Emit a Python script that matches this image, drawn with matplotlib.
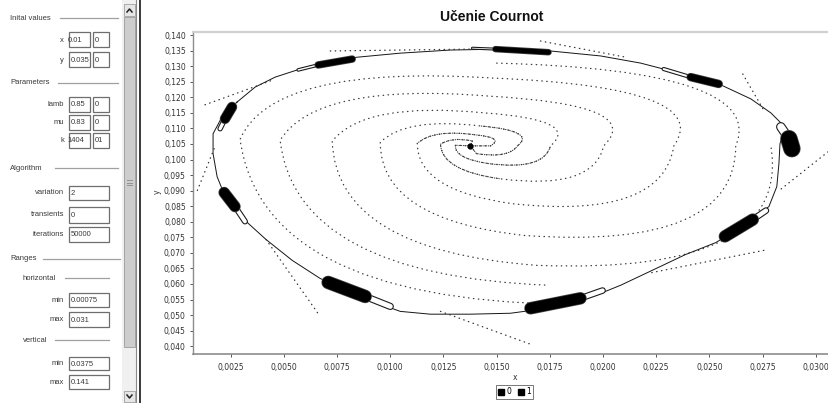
import matplotlib
matplotlib.use("Agg")
import matplotlib.pyplot as plt
from matplotlib.path import Path
from matplotlib.patches import PathPatch, Rectangle
from matplotlib.lines import Line2D
from matplotlib.ticker import MultipleLocator, FuncFormatter

# ---------------- data ----------------
title = "Učenie Cournot"
x_min, x_max = 0.00075, 0.031
y_min, y_max = 0.0375, 0.141
fixed_point = (0.01377, 0.1044)

# spiral arms (on-curve / quadratic-control points alternate after the 2nd point)
arm0_x = [0.01377, 0.01471, 0.01537, 0.01405, 0.01203, 0.01127, 0.01127, 0.01575,
          0.02281, 0.02333, 0.02530, 0.01480, 0.00445, 0.00294, 0.00398, 0.01800]
arm0_y = [0.1044, 0.1044, 0.1070, 0.1079, 0.1099, 0.1052, 0.0900, 0.0858,
          0.0807, 0.1044, 0.1233, 0.1262, 0.1307, 0.1065, 0.0554, 0.0535]
arm1_x = [0.01377, 0.01386, 0.01283, 0.01236, 0.01240, 0.01518, 0.01956, 0.02003,
          0.02205, 0.01462, 0.00652, 0.00482, 0.00558, 0.01744]
arm1_y = [0.1044, 0.1060, 0.1073, 0.1049, 0.0964, 0.0938, 0.0900, 0.1044,
          0.1176, 0.1204, 0.1249, 0.1062, 0.0628, 0.0596]
arm2_x = [0.01377, 0.01306, 0.01301, 0.01462, 0.01725, 0.01753, 0.01899, 0.01443,
          0.00878, 0.00727, 0.00746, 0.01688, 0.02888, 0.02789]
arm2_y = [0.1044, 0.1046, 0.1003, 0.0987, 0.0964, 0.1044, 0.1128, 0.1150,
          0.1188, 0.1059, 0.0708, 0.0660, 0.0628, 0.1044]
arm3_x = [0.01377, 0.01405, 0.01556, 0.01598, 0.01688, 0.01424, 0.01071, 0.00953,
          0.00953, 0.01631, 0.02624, 0.02624, 0.02775, 0.01499]
arm3_y = [0.1044, 0.1019, 0.1003, 0.1044, 0.1092, 0.1108, 0.1137, 0.1055,
          0.0807, 0.0756, 0.0708, 0.1044, 0.1288, 0.1310]

# closed invariant curve through the clusters
boundary_x = [0.00280, 0.00365, 0.00459, 0.00576, 0.00718, 0.00845, 0.01047, 0.01283,
              0.01518, 0.01753, 0.01989, 0.02177, 0.02318, 0.02554, 0.02695, 0.02789,
              0.02855, 0.02832, 0.02827, 0.02817, 0.02780, 0.02671, 0.02530, 0.02389,
              0.02210, 0.02083, 0.01989, 0.01848, 0.01706, 0.01565, 0.01377, 0.01188,
              0.01047, 0.00953, 0.00812, 0.00670, 0.00539, 0.00416, 0.00308, 0.00228,
              0.00186, 0.00167, 0.00167, 0.00209, 0.00280]
boundary_y = [0.1185, 0.1233, 0.1265, 0.1291, 0.1317, 0.1329, 0.1342, 0.1352,
              0.1355, 0.1349, 0.1333, 0.1310, 0.1285, 0.1240, 0.1195, 0.1150,
              0.1105, 0.1051, 0.0987, 0.0913, 0.0849, 0.0791, 0.0733, 0.0695,
              0.0637, 0.0596, 0.0570, 0.0541, 0.0519, 0.0506, 0.0503, 0.0503,
              0.0512, 0.0535, 0.0573, 0.0618, 0.0676, 0.0743, 0.0810, 0.0874,
              0.0945, 0.1019, 0.1083, 0.1137, 0.1185]

# straight dotted manifold pieces
seg_x = [[0.00129, 0.00294, 0.00449], [0.00172, 0.00091], [0.00416, 0.00670],
         [0.00718, 0.01377], [0.01706, 0.02107], [0.02657, 0.02752],
         [0.03058, 0.02822], [0.02756, 0.02210], [0.01236, 0.01673]]
seg_y = [[0.1176, 0.1217, 0.1256], [0.1035, 0.0897], [0.0743, 0.0496],
         [0.1349, 0.1355], [0.1381, 0.1329], [0.1275, 0.1163],
         [0.1025, 0.0897], [0.0708, 0.0634], [0.0512, 0.0403]]

# dense clusters: ring end (tail), core start, core end
cl_tx = [0.00567, 0.01386, 0.02285, 0.02836, 0.02766, 0.01998, 0.01000, 0.00317, 0.00200]
cl_ty = [0.1288, 0.1358, 0.1291, 0.1105, 0.0836, 0.0579, 0.0528, 0.0801, 0.1099]
cl_x0 = [0.00661, 0.01494, 0.02412, 0.02874, 0.02704, 0.01894, 0.00882, 0.00270, 0.00223]
cl_y0 = [0.1304, 0.1355, 0.1265, 0.1067, 0.0807, 0.0554, 0.0560, 0.0849, 0.1131]
cl_x1 = [0.00821, 0.01744, 0.02544, 0.02888, 0.02573, 0.01659, 0.00708, 0.00219, 0.00256]
cl_y1 = [0.1323, 0.1345, 0.1243, 0.1035, 0.0753, 0.0522, 0.0605, 0.0894, 0.1169]
cl_px = [6, 5, 7, 16, 11, 11, 12, 10, 9]   # thickness in pixels (style)

legend_labels = ["0", "1"]

# ---------------- figure ----------------
W, H, DPI = 829, 403, 100
fig = plt.figure(figsize=(W / DPI, H / DPI), dpi=DPI)
fig.patch.set_facecolor("white")
PX = 72.0 / DPI  # points per pixel

# ---- left control panel (UI mock-up) ----
pax = fig.add_axes([0, 0, 1, 1], zorder=-1)
pax.set_xlim(0, W)
pax.set_ylim(H, 0)
pax.axis("off")
pax.patch.set_alpha(0)
FS = 5.5
FAM = "Liberation Sans"
TC = "#3a3a3a"


def label(x, y, s, ha="right"):
    pax.text(x, y, s, ha=ha, va="center", fontsize=FS, color=TC, family=FAM)


def header(x, y, s, lx0, lx1):
    label(x, y, s, ha="left")
    pax.plot([lx0, lx1], [y, y], color="#a0a0a0", lw=0.9)


def box(x0, x1, y0, y1, s, shift=0):
    r = Rectangle((x0, y0), x1 - x0, y1 - y0, facecolor="white",
                  edgecolor="#6e6e6e", lw=0.9)
    pax.add_patch(r)
    t = pax.text(x0 + 2 + shift, (y0 + y1) / 2 + 0.5, s, ha="left", va="center",
                 fontsize=FS, color=TC, family=FAM)
    t.set_clip_path(r)


header(10, 18, "Inital values", 60, 118)
label(64, 40, "x"); box(69, 90, 32, 47, "0.01", shift=-3); box(93, 109, 32, 47, "0")
label(64, 60, "y"); box(69, 90, 52, 67, "0.035"); box(93, 109, 52, 67, "0")
header(10, 83, "Parameters", 58, 118)
label(64, 105, "lamb"); box(69, 90, 97, 112, "0.85"); box(93, 109, 97, 112, "0")
label(64, 123, "mu"); box(69, 90, 115, 130, "0.83"); box(93, 109, 115, 130, "0")
label(64, 141, "k"); box(69, 90, 133, 148, "1404", shift=-4); box(93, 109, 133, 148, "01")
header(10, 168, "Algorithm", 55, 118)
label(64, 193, "variation"); box(69, 109, 186, 200, "2")
label(64, 215, "transients"); box(69, 109, 207, 223, "0")
label(64, 234.5, "iterations"); box(69, 109, 227, 242, "50000")
header(10, 259, "Ranges", 43, 120)
header(23, 278, "horizontal", 65, 109)
label(64, 300, "min"); box(69, 109, 293, 307, "0.00075")
label(64, 319.5, "max"); box(69, 109, 312, 327, "0.031")
header(23, 340, "vertical", 55, 109)
label(64, 363.5, "min"); box(69, 109, 357, 370, "0.0375")
label(64, 382, "max"); box(69, 109, 375, 389, "0.141")

# scrollbar
pax.add_patch(Rectangle((122, 0), 14, H, facecolor="#f0f0f0", edgecolor="none"))
pax.add_patch(Rectangle((124, 4), 11, 12, facecolor="#e6e6e6", edgecolor="#a0a0a0", lw=0.6))
pax.plot([127, 129.5, 132], [12, 9, 12], color="#222", lw=1.1)
pax.add_patch(Rectangle((124, 17), 11, 330, facecolor="#cdcdcd", edgecolor="#9a9a9a", lw=0.6))
for gy in (180, 182.5, 185):
    pax.plot([127, 132], [gy, gy], color="#888", lw=0.6)
pax.add_patch(Rectangle((124, 391), 11, 11, facecolor="#e6e6e6", edgecolor="#a0a0a0", lw=0.6))
pax.plot([127, 129.5, 132], [395, 398, 395], color="#222", lw=1.1)
pax.plot([136, 136], [0, H], color="#8a8a8a", lw=0.8)
pax.plot([140.5, 140.5], [0, H], color="#2a2a2a", lw=1.3)

# ---- chart ----
ax = fig.add_axes([193.5 / W, 1 - 354 / H, 643.5 / W, 322 / H])
ax.set_xlim(x_min, x_max)
ax.set_ylim(y_min, y_max)
ax.set_facecolor("white")
ax.spines["right"].set_visible(False)
ax.spines["top"].set_color("#d0d0d0")
ax.spines["top"].set_linewidth(1.6)
ax.spines["left"].set_color("#8c8c8c")
ax.spines["bottom"].set_color("#8c8c8c")
ax.spines["left"].set_linewidth(1.0)
ax.spines["bottom"].set_linewidth(1.2)

ax.xaxis.set_major_locator(MultipleLocator(0.0025))
ax.yaxis.set_major_locator(MultipleLocator(0.005))
ax.xaxis.set_major_formatter(FuncFormatter(lambda v, p: f"{v:.4f}".replace(".", ",")))
ax.yaxis.set_major_formatter(FuncFormatter(lambda v, p: f"{v:.3f}".replace(".", ",")))
ax.tick_params(axis="both", direction="out", length=2.5, width=0.7, color="#555",
               labelsize=5.5, labelcolor="#333")
ax.tick_params(axis="x", pad=4)
ax.tick_params(axis="y", pad=3)

dot_ls = (0, (0.35, 3.4))
dot_style = dict(fill=False, edgecolor="#3c3c3c", lw=0.95, linestyle=dot_ls,
                 capstyle="round")
for xs, ys in ((arm0_x, arm0_y), (arm1_x, arm1_y), (arm2_x, arm2_y), (arm3_x, arm3_y)):
    verts = list(zip(xs, ys))
    codes = [Path.MOVETO, Path.LINETO] + [Path.CURVE3] * (len(verts) - 2)
    ax.add_patch(PathPatch(Path(verts, codes), **dot_style))
    # denser dots on the inner turn of each arm, near the focus
    ax.add_patch(PathPatch(Path(verts[:6], codes[:6]), fill=False, edgecolor="#3c3c3c",
                           lw=0.8, linestyle=(0, (0.4, 1.6)), capstyle="round"))

ax.plot([fixed_point[0]], [fixed_point[1]], "o", color="black", markersize=3.5, zorder=5)

ax.plot(boundary_x, boundary_y, color="#151515", lw=0.7, solid_joinstyle="round", zorder=3)

for xs, ys in zip(seg_x, seg_y):
    ax.plot(xs, ys, color="#333", lw=0.95, linestyle=dot_ls,
            dash_capstyle="round", zorder=3)

for tx, ty, x0, y0, x1, y1, w in zip(cl_tx, cl_ty, cl_x0, cl_y0, cl_x1, cl_y1, cl_px):
    # hollow contour rings at the tail end
    ax.plot([tx, x0], [ty, y0], color="#1a1a1a", lw=0.6 * w * PX,
            solid_capstyle="round", zorder=4)
    ax.plot([tx, x0], [ty, y0], color="white", lw=max(0.6 * w - 2.2, 0.6) * PX,
            solid_capstyle="round", zorder=4)
    ax.plot([x0, x1], [y0, y1], color="#444", lw=(w + 1.5) * PX,
            solid_capstyle="round", zorder=5)
    ax.plot([x0, x1], [y0, y1], color="black", lw=w * PX,
            solid_capstyle="round", zorder=5)

# title, axis labels, legend
fig.text(492 / W, 1 - 17 / H, title, ha="center", va="center", fontsize=10,
         fontweight="bold", family="Liberation Sans", color="#111")
fig.text(515 / W, 1 - 378 / H, "x", ha="center", va="center", fontsize=5.5, color="#333")
fig.text(157 / W, 1 - 192 / H, "y", ha="center", va="center", fontsize=5.5,
         rotation=90, color="#333")
handles = [Line2D([], [], marker="s", linestyle="none", color="black", markersize=4.5)
           for _ in legend_labels]
leg = fig.legend(handles, legend_labels, loc="center", bbox_to_anchor=(514.5 / W, 1 - 392 / H),
                 ncol=2, fontsize=5.5, frameon=True, fancybox=False, handlelength=0.8,
                 handletextpad=0.3, columnspacing=0.8, borderpad=0.3, borderaxespad=0)
leg.get_frame().set_edgecolor("#555")
leg.get_frame().set_linewidth(0.7)

fig.savefig("out.png", dpi=DPI, facecolor="white")
